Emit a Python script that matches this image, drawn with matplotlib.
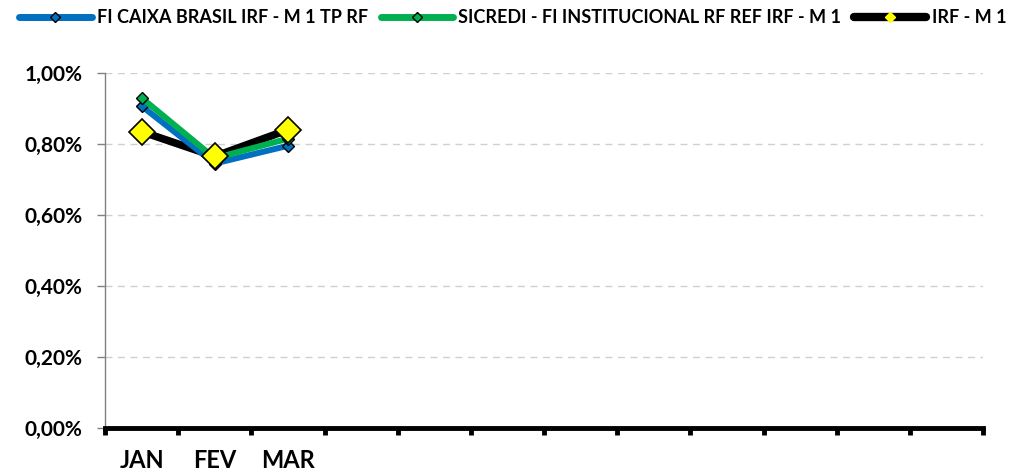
import matplotlib.pyplot as plt
from matplotlib.ticker import FuncFormatter, FixedLocator
from matplotlib.lines import Line2D

plt.rcParams['font.family'] = ['Lato', 'DejaVu Sans']
plt.rcParams['font.weight'] = 'bold'

meses = ["JAN", "FEV", "MAR", "", "", "", "", "", "", "", "", ""]
caixa = [0.907, 0.745, 0.795]
sicredi = [0.930, 0.760, 0.815]
irf = [0.835, 0.765, 0.840]

nome_caixa = "FI CAIXA BRASIL IRF - M 1 TP RF"
nome_sicredi = "SICREDI - FI INSTITUCIONAL RF REF IRF - M 1"
nome_irf = "IRF - M 1"

fig = plt.figure(figsize=(10.13, 4.72), dpi=100)
ax = fig.add_axes([105 / 1013, 1 - 428 / 472, 878 / 1013, 355 / 472])

x = range(len(caixa))
# linha preta do indice fica por baixo, marcadores amarelos por cima
ax.plot(x, irf, color="black", lw=5.5, zorder=2, solid_capstyle="round")
ax.plot(x, caixa, color="#0070C0", lw=4.3, marker="D", ms=6,
        mfc="#0070C0", mec="black", mew=1.0, zorder=3)
ax.plot(x, sicredi, color="#00B050", lw=4.3, marker="D", ms=6,
        mfc="#00B050", mec="black", mew=1.0, zorder=4)
ax.plot(x, irf, ls="none", marker="D", ms=13,
        mfc="#FFFF00", mec="black", mew=1.2, zorder=6)

ax.set_xlim(-0.5, len(meses) - 0.5)
ax.set_ylim(0, 1.0)
ax.set_yticks([0, 0.2, 0.4, 0.6, 0.8, 1.0])
ax.yaxis.set_major_formatter(FuncFormatter(lambda v, p: f"{v:.2f}%".replace(".", ",")))
ax.yaxis.grid(True, color="#D0D0D0", linestyle=(0, (5, 4)), lw=1)
ax.set_axisbelow(True)

ax.set_xticks(range(len(meses)))
ax.set_xticklabels(meses, fontsize=17, fontweight="bold")
ax.tick_params(axis="x", which="major", length=0, pad=15)
ax.xaxis.set_minor_locator(FixedLocator([i - 0.5 for i in range(len(meses) + 1)]))
ax.tick_params(axis="x", which="minor", length=5, width=3.5, color="black", direction="out")
ax.tick_params(axis="y", labelsize=15, length=6, width=1, color="#808080", pad=10)
for lbl in ax.get_yticklabels():
    lbl.set_fontweight("bold")

for s in ["top", "right"]:
    ax.spines[s].set_visible(False)
ax.spines["left"].set_color("#808080")
ax.spines["left"].set_linewidth(1)
ax.spines["bottom"].set_color("black")
ax.spines["bottom"].set_linewidth(3.5)

handles = [
    Line2D([], [], color="#0070C0", lw=5, marker="D", ms=5, mfc="#0070C0", mec="black",
           mew=1, solid_capstyle="round"),
    Line2D([], [], color="#00B050", lw=5, marker="D", ms=5, mfc="#00B050", mec="black",
           mew=1, solid_capstyle="round"),
    Line2D([], [], color="black", lw=6, marker="D", ms=5, mfc="#FFFF00", mec="#FFFF00",
           mew=1, solid_capstyle="round"),
]
fig.legend(handles, [nome_caixa, nome_sicredi, nome_irf], loc="upper left",
           bbox_to_anchor=(0.003, 1.015), ncol=3, frameon=False, handlelength=4.0,
           handletextpad=0.3, columnspacing=0.7, prop={"weight": "bold", "size": 13})

fig.savefig("out.png", dpi=100)
